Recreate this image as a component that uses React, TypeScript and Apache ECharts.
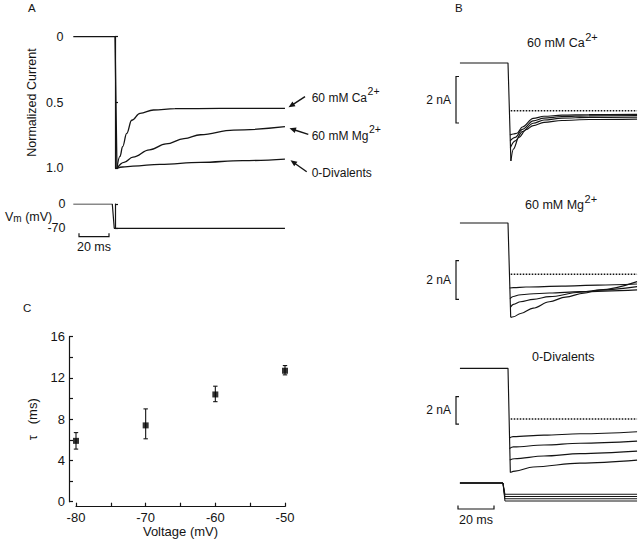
import React, { useEffect, useRef } from "react";
import * as echarts from "echarts";

const FONT = '"Liberation Sans", Arial, Helvetica, sans-serif';
const INK = "#141414";

// ---------- Panel A: normalized current (time in ms from the voltage step) ----------
const aPrepulse = [[-27.8, 0], [0, 0], [1.3, 1.0]];
const aCa = [[1.3, 1.0], [3.3, 0.91], [5.1, 0.835], [7.8, 0.735], [11.1, 0.635], [16.7, 0.582], [25.6, 0.557], [40, 0.547], [70, 0.545], [113.3, 0.545]];
const aMg = [[1.3, 1.0], [6, 0.955], [12, 0.915], [23, 0.86], [34, 0.815], [46, 0.775], [57, 0.745], [79, 0.71], [113.3, 0.684]];
const aZeroDiv = [[1.3, 1.0], [5, 0.99], [12, 0.983], [30, 0.97], [57, 0.955], [85, 0.942], [113.3, 0.93]];
const aVoltage = [[-27.8, 0], [-1.8, 0], [-0.5, -70], [113.3, -70]];
const aLabels = ["60 mM Ca", "60 mM Mg", "0-Divalents"];

// ---------- Panel B: currents in nA ----------
const bTitles = ["60 mM Ca", "60 mM Mg", "0-Divalents"];
const bZeroLine = [[1.5, 0], [71.7, 0]];
const bCaPrepulse = [[-26.7, 2.05], [0, 2.05], [1.6, -2.16]];
const bCaTraces = [
  [[1.1, -1.05], [3, -1.0], [5, -0.97], [8, -0.7], [14, -0.33], [20, -0.24], [30, -0.19], [45, -0.17], [71.7, -0.16]],
  [[1.2, -1.3], [4, -1.15], [8, -0.8], [14, -0.44], [20, -0.32], [30, -0.25], [45, -0.22], [71.7, -0.21]],
  [[1.3, -1.59], [4, -1.3], [8, -0.9], [14, -0.54], [20, -0.4], [30, -0.32], [45, -0.29], [71.7, -0.28]],
  [[1.6, -2.16], [3, -1.65], [6, -1.15], [10, -0.82], [14, -0.64], [20, -0.5], [30, -0.42], [45, -0.38], [71.7, -0.36]],
];
const bMgPrepulse = [[-26.7, 2.66], [0, 2.66], [1.5, -2.23]];
const bMgTraces = [
  [[0.9, -0.71], [3, -0.69], [10, -0.66], [30, -0.61], [50, -0.56], [71.7, -0.5]],
  [[1.1, -1.26], [3, -1.15], [6, -1.07], [12, -1.02], [23, -0.97], [40, -0.9], [71.7, -0.81]],
  [[1.3, -1.71], [3, -1.56], [7, -1.42], [14, -1.3], [23, -1.16], [40, -0.93], [51, -0.82], [71.7, -0.64]],
  [[1.5, -2.23], [3, -2.2], [7, -2.03], [14, -1.75], [23, -1.42], [32, -1.18], [42, -0.98], [51, -0.81], [71.7, -0.38]],
];
const bZdPrepulse = [[-26.7, 3.7], [0, 3.7], [1.3, -3.9]];
const bZdTraces = [
  [[0.6, -1.4], [2.8, -1.29], [20, -1.18], [40, -1.08], [71.7, -0.93]],
  [[0.8, -2.15], [3, -2.04], [20, -1.9], [40, -1.77], [71.7, -1.62]],
  [[1.0, -3.0], [3.5, -2.9], [20, -2.7], [40, -2.53], [71.7, -2.35]],
  [[1.3, -3.9], [4, -3.8], [14, -3.5], [40, -3.22], [71.7, -3.0]],
];
const bHolding = [[-26.7, 0], [-2.8, 0]];
const stepVoltages = [-50, -60, -70, -80];
const stepTimes = [-1.7, 71.7];

// ---------- Panel C: tau vs voltage ----------
const voltages = [-80, -70, -60, -50];
const tauMean = [5.9, 7.4, 10.4, 12.7];
const tauLow = [5.1, 6.1, 9.7, 12.3];
const tauHigh = [6.7, 9.0, 11.2, 13.2];

// ---------- layout ----------
const A = { x0: 115, pxPerMs: 1.5, tMin: -31, tMax: 114 };
const B = { x0: 508, pxPerMs: 1.8, tMin: -28, tMax: 72 };
const bPanels = [
  { zeroY: 110.7, px: 23.25, min: -2.5, max: 2.5, bracketTop: 76.5, titleX: 527, titleY: 43 },
  { zeroY: 274.3, px: 19.3, min: -2.6, max: 3, bracketTop: 260.7, titleX: 525, titleY: 205 },
  { zeroY: 419, px: 13.7, min: -4.2, max: 4, bracketTop: 396.7, titleX: 532, titleY: 356.7 },
];
const bV = { zeroY: 483, px: 0.225, min: -90, max: 10 };

const measureCtx = typeof document !== "undefined" ? document.createElement("canvas").getContext("2d") : null;
function textWidth(t: string, size: number) {
  if (!measureCtx) return t.length * size * 0.55;
  measureCtx.font = `${size}px ${FONT}`;
  return measureCtx.measureText(t).width;
}

function txt(x: number, y: number, text: string, size = 12, align = "left", extra: any = {}) {
  return {
    type: "text",
    x,
    y,
    style: {
      text,
      fontSize: size,
      fontFamily: FONT,
      fill: INK,
      align,
      verticalAlign: "middle",
      textAlign: align,
      textVerticalAlign: "middle",
      ...extra,
    },
  };
}

function supLabel(x: number, y: number, main: string, sup: string, size = 12, supSize = 10.5, raise = 6.5) {
  const w = textWidth(main, size);
  return [txt(x, y, main, size), txt(x + w + 0.5, y - raise, sup, supSize)];
}

function arrow(x1: number, y1: number, x2: number, y2: number) {
  const dx = x2 - x1, dy = y2 - y1;
  const L = Math.hypot(dx, dy);
  const ux = dx / L, uy = dy / L;
  const hl = 6.5, hw = 2.8;
  const bx = x2 - ux * hl, by = y2 - uy * hl;
  const px = -uy, py = ux;
  return [
    { type: "line", shape: { x1, y1, x2: bx + ux, y2: by + uy }, style: { stroke: INK, lineWidth: 1.4 } },
    {
      type: "polygon",
      shape: { points: [[x2, y2], [bx + px * hw, by + py * hw], [bx - px * hw, by - py * hw]] },
      style: { fill: INK },
    },
  ];
}

function hBar(xL: number, xR: number, y: number, tick: number) {
  return {
    type: "polyline",
    shape: { points: [[xL, y - tick], [xL, y], [xR, y], [xR, y - tick]] },
    style: { stroke: INK, lineWidth: 1.2, fill: "none" },
  };
}

function vBracket(x: number, top: number, h: number) {
  return {
    type: "polyline",
    shape: { points: [[x + 3, top], [x, top], [x, top + h], [x + 3, top + h]] },
    style: { stroke: INK, lineWidth: 1.2, fill: "none" },
  };
}

function lineSeries(data: number[][], xi: number, yi: number, extra: any = {}) {
  return {
    type: "line",
    xAxisIndex: xi,
    yAxisIndex: yi,
    data,
    showSymbol: false,
    symbol: "none",
    silent: true,
    lineStyle: { color: INK, width: 1.15 },
    ...extra,
  };
}

function buildOption() {
  const hiddenX = (gi: number, cfg: any) => ({ type: "value", gridIndex: gi, min: cfg.tMin, max: cfg.tMax, show: false });
  const grids: any[] = [];
  const xAxes: any[] = [];
  const yAxes: any[] = [];
  const series: any[] = [];

  const aLeft = A.x0 + A.tMin * A.pxPerMs;
  const aWidth = (A.tMax - A.tMin) * A.pxPerMs;
  const bLeft = B.x0 + B.tMin * B.pxPerMs;
  const bWidth = (B.tMax - B.tMin) * B.pxPerMs;

  // grid 0: A current
  grids.push({ left: aLeft, top: 36.7, width: aWidth, height: 131.6 });
  xAxes.push(hiddenX(0, A));
  yAxes.push({
    type: "value", gridIndex: 0, min: 0, max: 1, interval: 0.5, inverse: true,
    axisLine: { show: true, lineStyle: { color: INK, width: 1.2 } },
    axisTick: { show: true, inside: true, length: 3, lineStyle: { color: INK, width: 1.2 } },
    axisLabel: { margin: 5, fontSize: 12.5, fontFamily: FONT, color: INK, formatter: (v: number) => (v === 1 ? "1.0" : String(v)) },
    splitLine: { show: false },
    name: "Normalized Current", nameLocation: "middle", nameGap: 30, nameRotate: 90,
    nameTextStyle: { fontSize: 12.5, fontFamily: FONT, color: INK },
  });
  // grid 1: A voltage
  grids.push({ left: aLeft, top: 204, width: aWidth, height: 24.3 });
  xAxes.push(hiddenX(1, A));
  yAxes.push({
    type: "value", gridIndex: 1, min: -70, max: 0, interval: 70,
    axisLine: { show: true, lineStyle: { color: INK, width: 1.2 } },
    axisTick: { show: true, inside: true, length: 3, lineStyle: { color: INK, width: 1.2 } },
    axisLabel: { margin: 3, fontSize: 12.5, fontFamily: FONT, color: INK },
    splitLine: { show: false },
  });

  // grids 2-4: B currents
  bPanels.forEach((p, i) => {
    const gi = 2 + i;
    grids.push({ left: bLeft, top: p.zeroY - p.max * p.px, width: bWidth, height: (p.max - p.min) * p.px });
    xAxes.push(hiddenX(gi, B));
    yAxes.push({ type: "value", gridIndex: gi, min: p.min, max: p.max, show: false, splitLine: { show: false } });
  });
  // grid 5: B voltage
  grids.push({ left: bLeft, top: bV.zeroY - bV.max * bV.px, width: bWidth, height: (bV.max - bV.min) * bV.px });
  xAxes.push(hiddenX(5, B));
  yAxes.push({ type: "value", gridIndex: 5, min: bV.min, max: bV.max, show: false, splitLine: { show: false } });

  // grid 6: C
  grids.push({ left: 76, top: 336.7, width: 209, height: 165 });
  xAxes.push({
    type: "value", gridIndex: 6, min: -80, max: -50, interval: 5, offset: 5,
    axisLine: { show: true, onZero: false, lineStyle: { color: INK, width: 1.2 } },
    axisTick: { show: true, inside: true, length: 4, lineStyle: { color: INK, width: 1.2 } },
    axisLabel: { margin: 4, fontSize: 13, fontFamily: FONT, color: INK, formatter: (v: number) => (v % 10 === 0 ? String(v) : "") },
    splitLine: { show: false },
    name: "Voltage (mV)", nameLocation: "middle", nameGap: 14,
    nameTextStyle: { fontSize: 13, fontFamily: FONT, color: INK, verticalAlign: "top" },
  });
  yAxes.push({
    type: "value", gridIndex: 6, min: 0, max: 16, interval: 2, offset: 7,
    axisLine: { show: true, onZero: false, lineStyle: { color: INK, width: 1.2 } },
    axisTick: { show: true, inside: true, length: 4, lineStyle: { color: INK, width: 1.2 } },
    axisLabel: { margin: 4, fontSize: 13, fontFamily: FONT, color: INK, formatter: (v: number) => (v % 4 === 0 ? String(v) : "") },
    splitLine: { show: false },
    name: "τ   (ms)", nameLocation: "middle", nameGap: 30, nameRotate: 90,
    nameTextStyle: { fontSize: 13, fontFamily: FONT, color: INK },
  });

  // ---- series A ----
  series.push(lineSeries(aPrepulse, 0, 0, { lineStyle: { color: INK, width: 1.3 } }));
  [aCa, aMg, aZeroDiv].forEach((d) =>
    series.push(lineSeries(d, 0, 0, { smooth: 0.4, smoothMonotone: "x", lineStyle: { color: INK, width: 1.3 } }))
  );
  series.push(lineSeries(aVoltage, 1, 1, { lineStyle: { color: INK, width: 1.2 } }));

  // ---- series B ----
  const bPre = [bCaPrepulse, bMgPrepulse, bZdPrepulse];
  const bTr = [bCaTraces, bMgTraces, bZdTraces];
  bPanels.forEach((_, i) => {
    const gi = 2 + i;
    series.push(lineSeries(bZeroLine, gi, gi, { lineStyle: { color: INK, width: 1.5, type: [1.6, 1.4] } }));
    series.push(lineSeries(bPre[i], gi, gi));
    bTr[i].forEach((d) => series.push(lineSeries(d, gi, gi, { smooth: 0.35, smoothMonotone: "x" })));
  });
  stepVoltages.forEach((v) => {
    series.push(lineSeries([...bHolding, [stepTimes[0], v], [stepTimes[1], v]], 5, 5, { lineStyle: { color: INK, width: 1 } }));
  });

  // ---- series C ----
  series.push({
    type: "custom",
    coordinateSystem: "cartesian2d",
    xAxisIndex: 6,
    yAxisIndex: 6,
    silent: true,
    data: voltages.map((v, i) => [v, tauLow[i], tauHigh[i]]),
    encode: { x: 0, y: [1, 2] },
    renderItem: (params: any, api: any) => {
      const x = api.value(0);
      const lo = api.coord([x, api.value(1)]);
      const hi = api.coord([x, api.value(2)]);
      const w = 2.2;
      const st = { stroke: INK, lineWidth: 1.1 };
      return {
        type: "group",
        children: [
          { type: "line", shape: { x1: lo[0], y1: lo[1], x2: hi[0], y2: hi[1] }, style: st },
          { type: "line", shape: { x1: lo[0] - w, y1: lo[1], x2: lo[0] + w, y2: lo[1] }, style: st },
          { type: "line", shape: { x1: hi[0] - w, y1: hi[1], x2: hi[0] + w, y2: hi[1] }, style: st },
        ],
      };
    },
  });
  series.push({
    type: "scatter",
    xAxisIndex: 6,
    yAxisIndex: 6,
    symbol: "rect",
    symbolSize: 6,
    silent: true,
    itemStyle: { color: "#000" },
    data: voltages.map((v, i) => [v, tauMean[i]]),
    z: 5,
  });

  // ---- graphic annotations ----
  const g: any[] = [];
  g.push(txt(28, 8, "A", 11.5));
  g.push(txt(455, 8, "B", 11.5));
  g.push(txt(23, 308, "C", 11.5));

  // A: arrows + labels
  g.push(...arrow(305, 96.7, 288.5, 107.3));
  g.push(...arrow(308.3, 134.3, 289.5, 128.3));
  g.push(...arrow(306.7, 171.7, 290.5, 160.3));
  g.push(...supLabel(311.7, 97.5, aLabels[0], "2+"));
  g.push(...supLabel(311.7, 135.5, aLabels[1], "2+"));
  g.push(txt(311.7, 173.3, aLabels[2], 12));

  // A: Vm label
  const vW = textWidth("V", 12.5);
  const mW = textWidth("m", 10);
  g.push(txt(5, 217, "V", 12.5));
  g.push(txt(5 + vW, 218.5, "m", 10));
  g.push(txt(5 + vW + mW, 217, " (mV)", 12.5));

  // A: 20 ms bar
  const aBarL = 79;
  g.push(hBar(aBarL, aBarL + 20 * A.pxPerMs, 236.7, 3.5));
  g.push(txt(aBarL + 10 * A.pxPerMs, 246.5, "20 ms", 12.5, "center"));

  // B titles
  g.push(...supLabel(bPanels[0].titleX, bPanels[0].titleY, bTitles[0], "2+", 12.5, 11, 6.5));
  g.push(...supLabel(bPanels[1].titleX, bPanels[1].titleY, bTitles[1], "2+", 12.5, 11, 6.5));
  g.push(txt(bPanels[2].titleX, bPanels[2].titleY, bTitles[2], 12.5));

  // B: 2 nA brackets
  bPanels.forEach((p) => {
    const h = 2 * p.px;
    g.push(vBracket(456, p.bracketTop, h));
    g.push(txt(451, p.bracketTop + h / 2, "2 nA", 12, "right"));
  });

  // B: 20 ms bar
  g.push(hBar(458, 458 + 20 * B.pxPerMs, 509, 3.5));
  g.push(txt(458 + 10 * B.pxPerMs, 520, "20 ms", 12.5, "center"));

  return {
    animation: false,
    backgroundColor: "#ffffff",
    grid: grids.map((gr) => ({ ...gr, containLabel: false, outerBoundsMode: "none" })),
    xAxis: xAxes,
    yAxis: yAxes,
    series,
    graphic: { elements: g },
  };
}

export default function App() {
  const ref = useRef<HTMLDivElement>(null);
  useEffect(() => {
    if (!ref.current) return;
    const chart = echarts.init(ref.current, null, { renderer: "svg" });
    chart.setOption(buildOption() as any);
    return () => chart.dispose();
  }, []);
  return (
    <div
      ref={ref}
      style={{ position: "absolute", left: 0, top: 0, width: 640, height: 545, background: "#fff" }}
    />
  );
}
